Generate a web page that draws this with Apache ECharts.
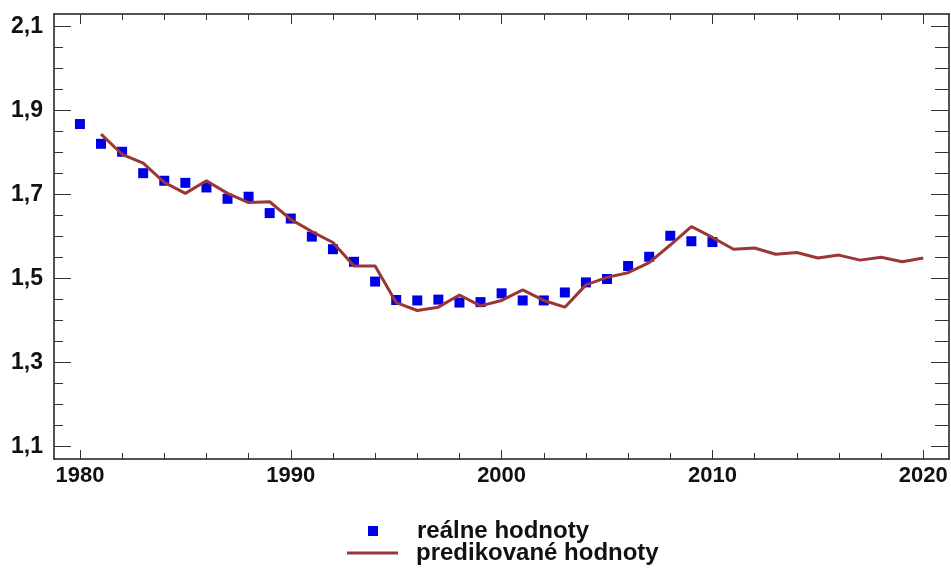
<!DOCTYPE html>
<html>
<head>
<meta charset="utf-8">
<script src="https://cdn.jsdelivr.net/npm/echarts@6/dist/echarts.min.js"></script>
<style>html,body{margin:0;padding:0;background:#fff}#c{width:951px;height:569px}</style>
</head>
<body>
<div id="c"></div>
<script>
// ---- data ----
const realYears = [1980,1981,1982,1983,1984,1985,1986,1987,1988,1989,1990,1991,1992,1993,1994,1995,1996,1997,1998,1999,2000,2001,2002,2003,2004,2005,2006,2007,2008,2009,2010];
const realValues = [1.868,1.821,1.802,1.751,1.733,1.728,1.717,1.690,1.695,1.656,1.643,1.600,1.570,1.540,1.493,1.449,1.448,1.450,1.443,1.444,1.465,1.448,1.448,1.467,1.491,1.499,1.530,1.552,1.602,1.589,1.587];
const predYears = [1981,1982,1983,1984,1985,1986,1987,1988,1989,1990,1991,1992,1993,1994,1995,1996,1997,1998,1999,2000,2001,2002,2003,2004,2005,2006,2007,2008,2009,2010,2011,2012,2013,2014,2015,2016,2017,2018,2019,2020];
const predValues = [1.844,1.796,1.775,1.729,1.703,1.733,1.703,1.681,1.683,1.641,1.612,1.586,1.530,1.530,1.443,1.424,1.432,1.461,1.435,1.448,1.473,1.448,1.432,1.485,1.503,1.514,1.538,1.580,1.624,1.598,1.570,1.573,1.558,1.562,1.549,1.556,1.544,1.551,1.540,1.549];
const xMajorTicks = [1980,1990,2000,2010,2020];
const xMinorTicks = [1980,1982,1984,1986,1988,1990,1992,1994,1996,1998,2000,2002,2004,2006,2008,2010,2012,2014,2016,2018,2020];
const yMajorTicks = [1.1,1.3,1.5,1.7,1.9,2.1];
const yMinorTicks = [1.1,1.15,1.2,1.25,1.3,1.35,1.4,1.45,1.5,1.55,1.6,1.65,1.7,1.75,1.8,1.85,1.9,1.95,2.0,2.05,2.1];
const seriesNames = ['reálne hodnoty','predikované hodnoty'];

// ---- chart ----
const FONT = '"Liberation Sans", Arial, sans-serif';
const X_MIN = 1978.77, X_MAX = 2021.22, Y_MIN = 1.0705, Y_MAX = 2.13;
const BLUE = '#0000e6', RED = '#9a3636';
const frame = {show:true, lineStyle:{color:'#1a1a1a', width:1.5}};
const noLine = {show:false};
function xAx(pos, ticks, len, labels, line){
  return {type:'value', position:pos, min:X_MIN, max:X_MAX, splitLine:{show:false},
    axisLine: line ? frame : noLine,
    axisTick:{show:true, inside:true, length:len, customValues:ticks, lineStyle:{color:'#333', width:1}},
    axisLabel: labels ? {show:true, customValues:xMajorTicks, margin:6, fontFamily:FONT, fontWeight:'bold', fontSize:22, color:'#111',
      formatter: v => String(Math.round(v))} : {show:false}};
}
function yAx(pos, ticks, len, labels, line){
  return {type:'value', position:pos, min:Y_MIN, max:Y_MAX, splitLine:{show:false},
    axisLine: line ? frame : noLine,
    axisTick:{show:true, inside:true, length:len, customValues:ticks, lineStyle:{color:'#333', width:1}},
    axisLabel: labels ? {show:true, customValues:yMajorTicks, margin:11, fontFamily:FONT, fontWeight:'bold', fontSize:23, color:'#111',
      formatter: v => v.toFixed(1).replace('.', ',')} : {show:false}};
}
const legendText = {fontFamily:FONT, fontWeight:'bold', fontSize:24, color:'#111'};
const chart = echarts.init(document.getElementById('c'), null, {renderer:'canvas'});
chart.setOption({
  backgroundColor:'#fff',
  animation:false,
  grid:{left:54, right:2, top:14, bottom:110, containLabel:false},
  xAxis:[xAx('bottom', xMinorTicks, 6, false, true), xAx('bottom', xMajorTicks, 9, true, false),
         xAx('top', xMinorTicks, 6, false, true), xAx('top', xMajorTicks, 10, false, false)],
  yAxis:[yAx('left', yMinorTicks, 9, false, true), yAx('left', yMajorTicks, 17, true, false),
         yAx('right', yMinorTicks, 14, false, true), yAx('right', yMajorTicks, 18, false, false)],
  legend:[
    {left:363, top:514, padding:5, itemWidth:10, itemHeight:10, selectedMode:false,
     textStyle:Object.assign({padding:[0,0,0,34]}, legendText),
     data:[{name:seriesNames[0], icon:'rect', itemStyle:{color:BLUE, opacity:1}}]},
    {left:342, top:536, padding:5, itemWidth:51, itemHeight:3, selectedMode:false,
     textStyle:Object.assign({padding:[0,0,0,13]}, legendText),
     data:[{name:seriesNames[1], icon:'rect', itemStyle:{color:RED}}]}
  ],
  series:[
    {name:seriesNames[0], type:'scatter', xAxisIndex:0, yAxisIndex:0, symbol:'rect', symbolSize:10,
     itemStyle:{color:BLUE, opacity:1}, data: realYears.map((y,i)=>[y, realValues[i]]), z:3},
    {name:seriesNames[1], type:'line', xAxisIndex:0, yAxisIndex:0, symbol:'none', showSymbol:false,
     lineStyle:{color:RED, width:3}, itemStyle:{color:RED},
     data: predYears.map((y,i)=>[y, predValues[i]]), z:4}
  ]
});
</script>
</body>
</html>
